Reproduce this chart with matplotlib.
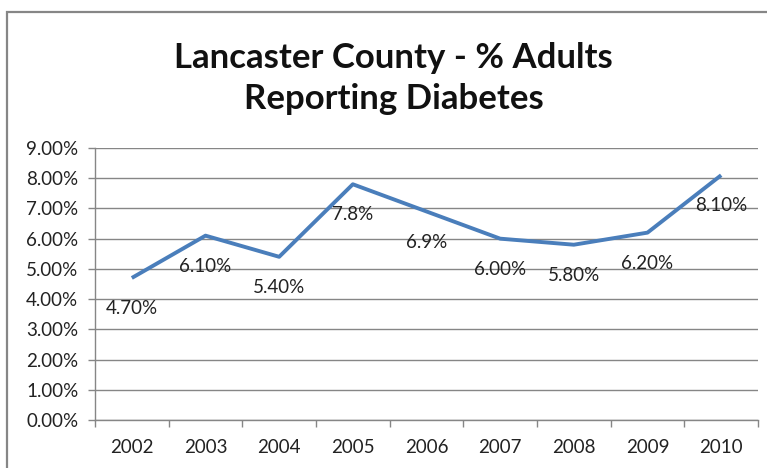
import matplotlib
matplotlib.use('Agg')
import matplotlib.pyplot as plt
import numpy as np
from matplotlib.patches import Rectangle
from matplotlib.ticker import FuncFormatter

plt.rcParams['font.family'] = ['Lato', 'DejaVu Sans']

# Lancaster County survey data
years = ['2002', '2003', '2004', '2005', '2006', '2007', '2008', '2009', '2010']
pct = [4.7, 6.1, 5.4, 7.8, 6.9, 6.0, 5.8, 6.2, 8.1]
point_labels = ['4.70%', '6.10%', '5.40%', '7.8%', '6.9%', '6.00%', '5.80%', '6.20%', '8.10%']

fig = plt.figure(figsize=(7.67, 4.68), dpi=100)

# chart frame
fig.patches.append(Rectangle((7 / 767, -0.1), 1.2, (468 - 12) / 468 + 0.1,
                             transform=fig.transFigure, fill=False,
                             edgecolor='#868686', linewidth=1.6))

fig.text(0.513, 0.832, 'Lancaster County - % Adults\nReporting Diabetes',
         ha='center', va='center', fontsize=25, fontweight='bold',
         color='#111111', linespacing=1.35)

ax = fig.add_axes([95 / 767, 48 / 468, 663 / 767, 272 / 468])
x = np.arange(len(years))
ax.plot(x, pct, color='#4A7EBB', linewidth=2.8, solid_capstyle='butt')

for xi, yi, lab in zip(x, pct, point_labels):
    ax.annotate(lab, (xi, yi), xytext=(0, -22), textcoords='offset points',
                ha='center', va='center', fontsize=13.5, color='#222222')

ax.set_xlim(-0.5, len(years) - 0.5)
ax.set_ylim(0, 9)
ax.set_yticks(np.arange(0, 10, 1))
ax.yaxis.set_major_formatter(FuncFormatter(lambda v, p: '%.2f%%' % v))
ax.set_xticks(x)
ax.set_xticklabels(years)
ax.set_xticks(np.arange(-0.5, len(years), 1), minor=True)
ax.tick_params(axis='x', which='major', length=0, pad=14, labelsize=13.5, colors='#222222')
ax.tick_params(axis='x', which='minor', length=5, color='#868686', width=1)
ax.tick_params(axis='y', length=5, color='#868686', width=1, pad=7, labelsize=13.5, colors='#222222')
ax.tick_params(axis='y', color='#868686')

ax.grid(axis='y', color='#868686', linewidth=1)
ax.set_axisbelow(True)
for side in ['top', 'right']:
    ax.spines[side].set_visible(False)
for side in ['left', 'bottom']:
    ax.spines[side].set_color('#868686')
    ax.spines[side].set_linewidth(1)

fig.savefig('out.png', dpi=100)
